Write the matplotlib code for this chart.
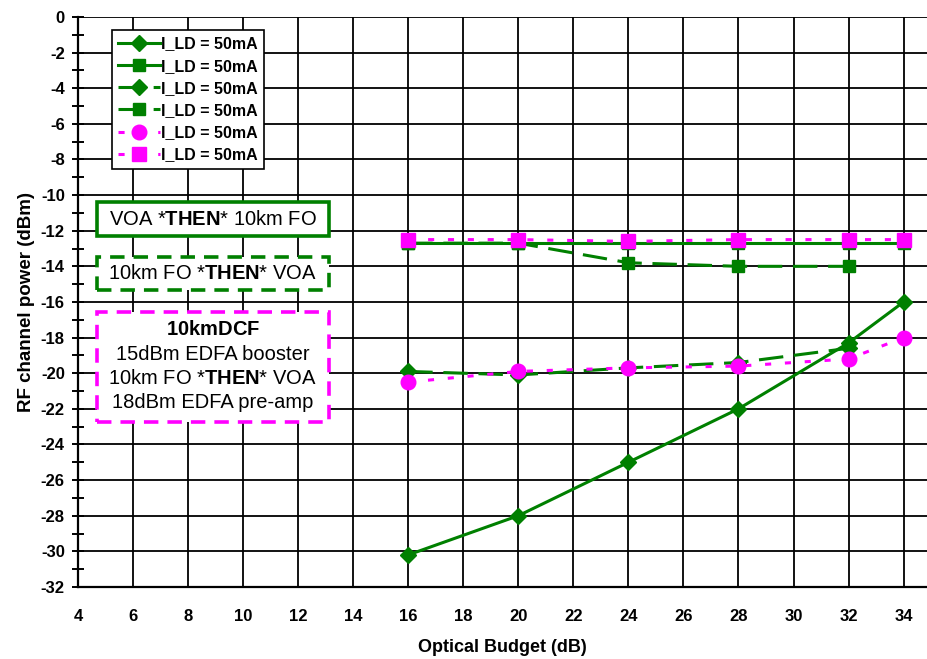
import matplotlib
matplotlib.use("Agg")
import matplotlib.pyplot as plt
from matplotlib.patches import Rectangle
from matplotlib.ticker import MultipleLocator

plt.rcParams['font.family'] = ['Liberation Sans', 'DejaVu Sans']
plt.rcParams['mathtext.fontset'] = 'custom'
plt.rcParams['mathtext.rm'] = 'Liberation Sans'
plt.rcParams['mathtext.bf'] = 'Liberation Sans:bold'
plt.rcParams['axes.unicode_minus'] = False

# optical budget (dB)
budget = [16, 20, 24, 28, 32, 34]
budget_short = [16, 20, 24, 28, 32]

voa_fo_diamond = [-30.2, -28.0, -25.0, -22.0, -18.3, -16.0]
voa_fo_square = [-12.7, -12.7, -12.7, -12.7, -12.7, -12.7]
fo_voa_diamond = [-19.9, -20.1, -19.7, -19.4, -18.6]
fo_voa_square = [-12.7, -12.7, -13.8, -14.0, -14.0]
dcf_circle = [-20.5, -19.9, -19.7, -19.6, -19.2, -18.0]
dcf_square = [-12.5, -12.5, -12.6, -12.5, -12.5, -12.5]

leg_label = "I_LD = 50mA"
GREEN = "#008000"
MAGENTA = "#ff00ff"

fig = plt.figure(figsize=(9.27, 6.59), dpi=100)
ax = fig.add_axes([0.0841, 0.1093, 0.9159, 0.865])

dash = (0, (8, 3.5))
dot = (0, (2, 4.5))

ax.plot(budget, voa_fo_diamond, color=GREEN, lw=2.2, marker='D', ms=8, label=leg_label, zorder=5)
ax.plot(budget, voa_fo_square, color=GREEN, lw=2.2, marker='s', ms=9, label=leg_label, zorder=5)
ax.plot(budget_short, fo_voa_diamond, color=GREEN, lw=2.2, ls=dash, marker='D', ms=8, label=leg_label, zorder=5)
ax.plot(budget_short, fo_voa_square, color=GREEN, lw=2.2, ls=dash, marker='s', ms=9, label=leg_label, zorder=5)
ax.plot(budget, dcf_circle, color=MAGENTA, lw=2.2, ls=dot, marker='o', ms=10.5, label=leg_label, zorder=6)
ax.plot(budget, dcf_square, color=MAGENTA, lw=2.2, ls=dot, marker='s', ms=9.5, label=leg_label, zorder=6)

ax.set_xlim(4, 34.85)
ax.set_ylim(-32, 0)
ax.xaxis.set_major_locator(MultipleLocator(2))
ax.yaxis.set_major_locator(MultipleLocator(2))
ax.yaxis.set_minor_locator(MultipleLocator(1))
ax.grid(True, which='major', color='black', lw=1.3)
ax.set_axisbelow(True)
ax.spines['top'].set_visible(False)
ax.spines['right'].set_visible(False)
ax.spines['left'].set_linewidth(1.6)
ax.spines['bottom'].set_linewidth(1.6)
ax.tick_params(axis='x', length=0, pad=16, labelsize=12)
ax.tick_params(axis='y', which='both', direction='inout', length=9, width=1.4, pad=5, labelsize=12)
for lab in ax.get_xticklabels() + ax.get_yticklabels():
    lab.set_fontweight('bold')

ax.set_xlabel("Optical Budget (dB)", fontsize=13, fontweight='bold', labelpad=11)
ax.set_ylabel("RF channel power (dBm)", fontsize=13.5, fontweight='bold', labelpad=4)

leg = ax.legend(loc='upper left', bbox_to_anchor=(0.040, 0.977), borderaxespad=0,
                prop={'weight': 'bold', 'size': 11.5}, handlelength=2.6,
                handletextpad=0.1, labelspacing=0.45, fancybox=False,
                edgecolor='black', framealpha=1, borderpad=0.4)
leg.get_frame().set_linewidth(1.2)

# annotation boxes
boxes = [
    ((0.0224, 0.616), 0.273, 0.059, GREEN, '-'),
    ((0.0224, 0.521), 0.273, 0.058, GREEN, (0, (4, 2.5))),
    ((0.0224, 0.2895), 0.273, 0.193, MAGENTA, (0, (4, 2.5))),
]
for (xy, w, h, col, ls) in boxes:
    ax.add_patch(Rectangle(xy, w, h, transform=ax.transAxes, facecolor='white',
                           edgecolor=col, lw=2.6, ls=ls, zorder=7))

ax.text(0.0224 + 0.273 / 2, 0.616 + 0.059 / 2, r"VOA *$\mathbf{THEN}$* 10km FO",
        transform=ax.transAxes, ha='center', va='center', fontsize=14.5, zorder=8)
ax.text(0.0224 + 0.273 / 2, 0.521 + 0.058 / 2, r"10km FO *$\mathbf{THEN}$* VOA",
        transform=ax.transAxes, ha='center', va='center', fontsize=14.5, zorder=8)
box3_lines = [r"$\mathbf{10kmDCF}$", "15dBm EDFA booster",
              r"10km FO *$\mathbf{THEN}$* VOA", "18dBm EDFA pre-amp"]
for i, line in enumerate(box3_lines):
    ax.text(0.0224 + 0.273 / 2, 0.451 - i * 0.0425, line, transform=ax.transAxes,
            ha='center', va='center', fontsize=14.5, zorder=8)

fig.savefig("out.png", dpi=100)
